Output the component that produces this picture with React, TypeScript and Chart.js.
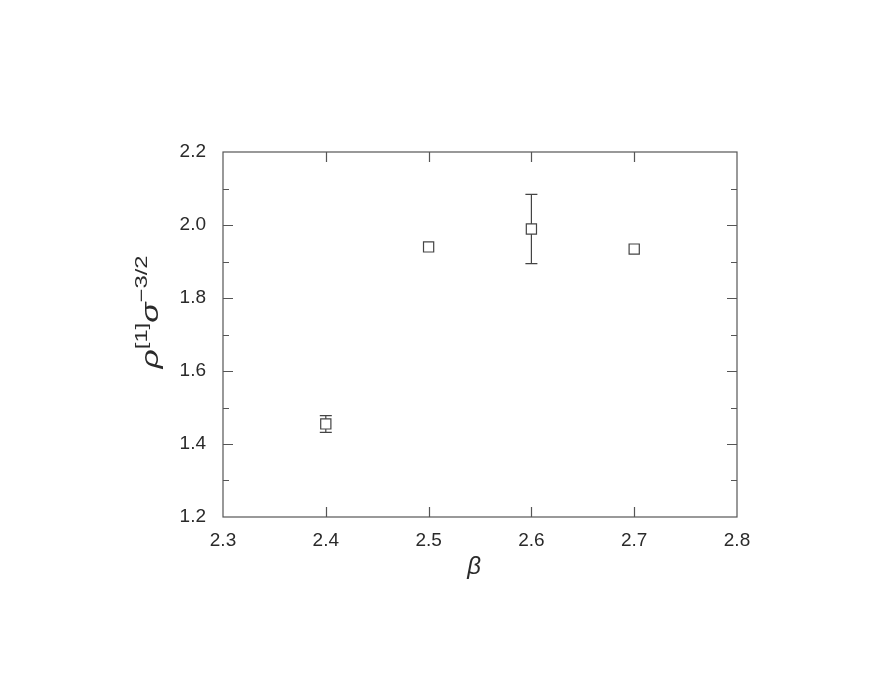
import React, { useEffect, useRef } from "react";
import { Chart, registerables } from "chart.js";

Chart.register(...registerables);

const betaValues = [2.4, 2.5, 2.6, 2.7];
const rhoValues = [1.455, 1.94, 1.989, 1.934];
const rhoErrors = [0.023, 0.004, 0.095, 0.004];
const xTicks = [2.3, 2.4, 2.5, 2.6, 2.7, 2.8];
const yTicks = [1.2, 1.4, 1.6, 1.8, 2.0, 2.2];
const xInnerTicks = [2.4, 2.5, 2.6, 2.7];
const yInnerTicks = [1.4, 1.6, 1.8, 2.0];
const yMinorTicks = [1.3, 1.5, 1.7, 1.9, 2.1];

const FRAME = "#555555";
const TEXT = "#2a2a2a";

const framePlugin = {
  id: "frameTicks",
  beforeDatasetsDraw(chart: any) {
    const { ctx, scales } = chart;
    const xs = scales.x;
    const ys = scales.y;
    ctx.save();
    ctx.strokeStyle = "#444444";
    ctx.lineWidth = 1.2;
    betaValues.forEach((b, i) => {
      const err = rhoErrors[i];
      const px = xs.getPixelForValue(b);
      const top = ys.getPixelForValue(rhoValues[i] + err);
      const bot = ys.getPixelForValue(rhoValues[i] - err);
      if (bot - top < 10) return;
      ctx.beginPath();
      ctx.moveTo(px, top);
      ctx.lineTo(px, bot);
      ctx.moveTo(px - 6, top);
      ctx.lineTo(px + 6, top);
      ctx.moveTo(px - 6, bot);
      ctx.lineTo(px + 6, bot);
      ctx.stroke();
    });
    ctx.restore();
  },
  afterDatasetsDraw(chart: any) {
    const { ctx, chartArea: a, scales } = chart;
    const xs = scales.x;
    const ys = scales.y;
    ctx.save();
    ctx.strokeStyle = FRAME;
    ctx.lineWidth = 1.2;
    ctx.strokeRect(a.left, a.top, a.right - a.left, a.bottom - a.top);
    ctx.beginPath();
    xInnerTicks.forEach((v) => {
      const px = Math.round(xs.getPixelForValue(v)) + 0.5;
      ctx.moveTo(px, a.bottom);
      ctx.lineTo(px, a.bottom - 10);
      ctx.moveTo(px, a.top);
      ctx.lineTo(px, a.top + 10);
    });
    yInnerTicks.forEach((v) => {
      const py = Math.round(ys.getPixelForValue(v)) + 0.5;
      ctx.moveTo(a.left, py);
      ctx.lineTo(a.left + 10, py);
      ctx.moveTo(a.right, py);
      ctx.lineTo(a.right - 10, py);
    });
    yMinorTicks.forEach((v) => {
      const py = Math.round(ys.getPixelForValue(v)) + 0.5;
      ctx.moveTo(a.left, py);
      ctx.lineTo(a.left + 6, py);
      ctx.moveTo(a.right, py);
      ctx.lineTo(a.right - 6, py);
    });
    ctx.stroke();

    // x title
    ctx.fillStyle = TEXT;
    ctx.font = "italic 24px 'Liberation Sans', Arial, sans-serif";
    ctx.textAlign = "center";
    ctx.textBaseline = "alphabetic";
    ctx.fillText("β", (a.left + a.right) / 2 - 6, 574);

    // y title rotated
    ctx.translate(158, 312);
    ctx.rotate(-Math.PI / 2);
    ctx.scale(1.4, 1);
    const big = "italic 24px 'Liberation Sans', Arial, sans-serif";
    const small = "17px 'Liberation Sans', Arial, sans-serif";
    const parts = [
      { t: "ρ", f: big, dy: 0 },
      { t: "[1]", f: small, dy: -11 },
      { t: "σ", f: big, dy: 0 },
      { t: "−3/2", f: small, dy: -11 },
    ];
    let total = 0;
    parts.forEach((p) => {
      ctx.font = p.f;
      total += ctx.measureText(p.t).width;
    });
    let x = -total / 2;
    ctx.textAlign = "left";
    parts.forEach((p) => {
      ctx.font = p.f;
      ctx.fillText(p.t, x, p.dy);
      x += ctx.measureText(p.t).width;
    });
    ctx.restore();
  },
};

export default function App() {
  const ref = useRef<HTMLCanvasElement>(null);
  useEffect(() => {
    if (!ref.current) return;
    const chart = new Chart(ref.current, {
      type: "scatter",
      data: {
        datasets: [
          {
            data: betaValues.map((b, i) => ({ x: b, y: rhoValues[i] })),
            pointStyle: "rect",
            pointRadius: 7.2,
            pointBackgroundColor: "#ffffff",
            pointBorderColor: "#444444",
            pointBorderWidth: 1.2,
            showLine: false,
          },
        ],
      },
      options: {
        animation: false,
        responsive: false,
        maintainAspectRatio: false,
        layout: { padding: { left: 0, top: 152, right: 159, bottom: 0 } },
        plugins: { legend: { display: false }, tooltip: { enabled: false } },
        scales: {
          x: {
            type: "linear",
            min: 2.3,
            max: 2.8,
            afterFit: (s: any) => {
              s.height = 175;
            },
            afterBuildTicks: (s: any) => {
              s.ticks = xTicks.map((v) => ({ value: v }));
            },
            grid: { display: false, drawTicks: false },
            border: { display: false },
            ticks: {
              padding: 12,
              color: TEXT,
              font: { family: "'Liberation Sans', Arial, sans-serif", size: 19 },
              callback: (v: any) => Number(v).toFixed(1),
              maxRotation: 0,
              autoSkip: false,
            },
          },
          y: {
            type: "linear",
            min: 1.2,
            max: 2.2,
            afterFit: (s: any) => {
              s.width = 223;
            },
            afterBuildTicks: (s: any) => {
              s.ticks = yTicks.map((v) => ({ value: v }));
            },
            grid: { display: false, drawTicks: false },
            border: { display: false },
            ticks: {
              padding: 17,
              color: TEXT,
              font: { family: "'Liberation Sans', Arial, sans-serif", size: 19 },
              callback: (v: any) => Number(v).toFixed(1),
              autoSkip: false,
            },
          },
        },
      },
      plugins: [framePlugin],
    });
    return () => chart.destroy();
  }, []);
  return (
    <div style={{ position: "fixed", left: 0, top: 0, width: 896, height: 692, background: "#fff" }}>
      <canvas ref={ref} width={896} height={692} style={{ width: 896, height: 692 }} />
    </div>
  );
}
